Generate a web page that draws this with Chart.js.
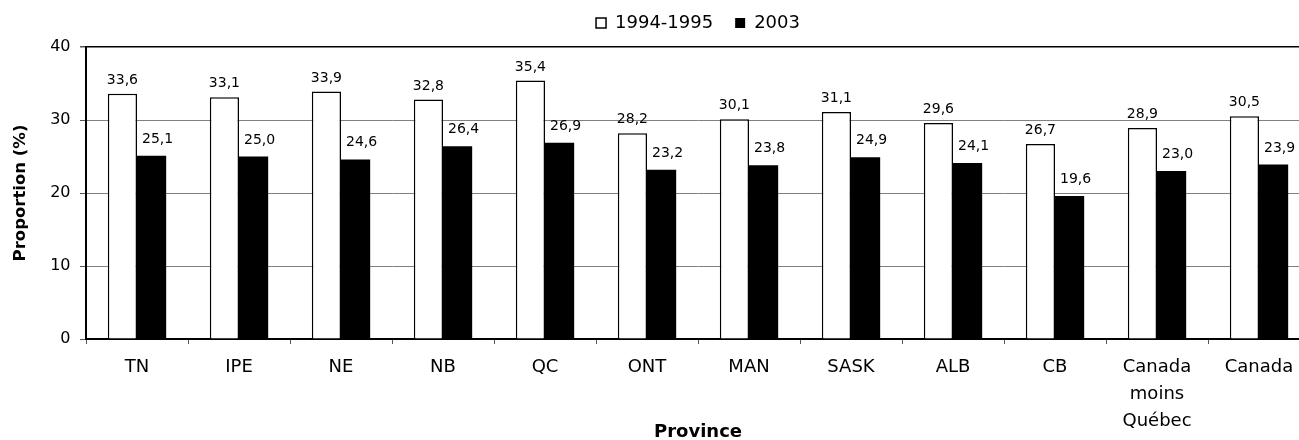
<!DOCTYPE html>
<html lang="fr">
<head>
<meta charset="utf-8">
<title>Proportion par province, 1994-1995 et 2003</title>
<script src="https://cdn.jsdelivr.net/npm/chart.js@4/dist/chart.umd.min.js"></script>
<style>
  html, body { margin: 0; padding: 0; background: #fff; overflow: hidden; }
  #wrap { width: 1310px; height: 440px; }
  canvas { display: block; }
</style>
</head>
<body>
<div id="wrap"><canvas id="chart" width="1310" height="440"></canvas></div>
<script>
// Provinces, with the multi-line label for "Canada moins Québec"
const provinces = ['TN', 'IPE', 'NE', 'NB', 'QC', 'ONT', 'MAN', 'SASK', 'ALB', 'CB', ['Canada', 'moins', 'Québec'], 'Canada'];

// Proportion (%) for each survey period
const values19941995 = [33.6, 33.1, 33.9, 32.8, 35.4, 28.2, 30.1, 31.1, 29.6, 26.7, 28.9, 30.5];
const values2003 = [25.1, 25.0, 24.6, 26.4, 26.9, 23.2, 23.8, 24.9, 24.1, 19.6, 23.0, 23.9];

const seriesNames = ['1994-1995', '2003'];
const yTicks = [0, 10, 20, 30, 40];

const FONT = 'DejaVu Sans';

// Leaves a little more room between the legend and the plot
const legendSpacing = {
  id: 'legendSpacing',
  afterInit(chart) {
    const legend = chart.legend;
    if (!legend) return;
    const fit = legend.fit;
    legend.fit = function () {
      fit.call(this);
      this.height += 5;
    };
  }
};

// Writes each bar's value above it, with a decimal comma
const valueLabels = {
  id: 'valueLabels',
  afterDatasetsDraw(chart) {
    const ctx = chart.ctx;
    ctx.save();
    ctx.font = '14px "' + FONT + '"';
    ctx.fillStyle = '#000';
    ctx.textAlign = 'center';
    ctx.textBaseline = 'alphabetic';
    chart.data.datasets.forEach((ds, di) => {
      const meta = chart.getDatasetMeta(di);
      const dx = di === 0 ? 0 : 6;
      const gap = di === 0 ? 10 : 13;
      meta.data.forEach((bar, i) => {
        const text = ds.data[i].toFixed(1).replace('.', ',');
        ctx.fillText(text, bar.x + dx, bar.y - gap);
      });
    });
    ctx.restore();
  }
};

new Chart(document.getElementById('chart'), {
  type: 'bar',
  data: {
    labels: provinces,
    datasets: [
      {
        label: seriesNames[0],
        data: values19941995,
        backgroundColor: '#ffffff',
        borderColor: '#000000',
        borderWidth: 1.5,
        categoryPercentage: 0.572,
        barPercentage: 1.0
      },
      {
        label: seriesNames[1],
        data: values2003,
        backgroundColor: '#000000',
        borderColor: '#000000',
        borderWidth: 0,
        categoryPercentage: 0.572,
        barPercentage: 1.0
      }
    ]
  },
  options: {
    responsive: false,
    devicePixelRatio: 1,
    animation: false,
    layout: { padding: { top: -8, left: 0, right: 0, bottom: 0 } },
    plugins: {
      tooltip: { enabled: false },
      legend: {
        position: 'top',
        align: 'center',
        fullSize: false,
        labels: {
          boxWidth: 10,
          boxHeight: 10,
          padding: 22,
          color: '#000',
          font: { family: FONT, size: 18 }
        }
      }
    },
    scales: {
      x: {
        offset: true,
        grid: {
          display: true,
          offset: true,
          drawOnChartArea: false,
          drawTicks: true,
          tickLength: 5,
          tickColor: '#555',
          tickWidth: 1
        },
        border: { display: true, color: '#000', width: 2 },
        ticks: {
          color: '#000',
          padding: 10,
          maxRotation: 0,
          autoSkip: false,
          font: { family: FONT, size: 18, lineHeight: 1.5 }
        },
        title: {
          display: true,
          text: 'Province',
          color: '#000',
          font: { family: FONT, size: 18, weight: 'bold', lineHeight: 0.83 },
          padding: { top: 0, bottom: 0 }
        },
        afterFit(scale) { scale.height = 101; }
      },
      y: {
        min: 0,
        max: 40,
        afterBuildTicks(scale) { scale.ticks = yTicks.map(v => ({ value: v })); },
        grid: {
          color: c => (c.tick && c.tick.value === 40 ? '#000' : '#808080'),
          lineWidth: c => (c.tick && c.tick.value === 40 ? 1.5 : 1),
          drawTicks: true,
          tickLength: 6,
          tickColor: '#555'
        },
        border: { display: true, color: '#000', width: 2 },
        ticks: {
          color: '#000',
          padding: 9.5,
          font: { family: FONT, size: 16 }
        },
        title: {
          display: true,
          text: 'Proportion (%)',
          color: '#000',
          font: { family: FONT, size: 16.5, weight: 'bold' },
          padding: { top: 10.4, bottom: 0 }
        },
        afterFit(scale) { scale.width = 86; }
      }
    }
  },
  plugins: [legendSpacing, valueLabels]
});
</script>
</body>
</html>
